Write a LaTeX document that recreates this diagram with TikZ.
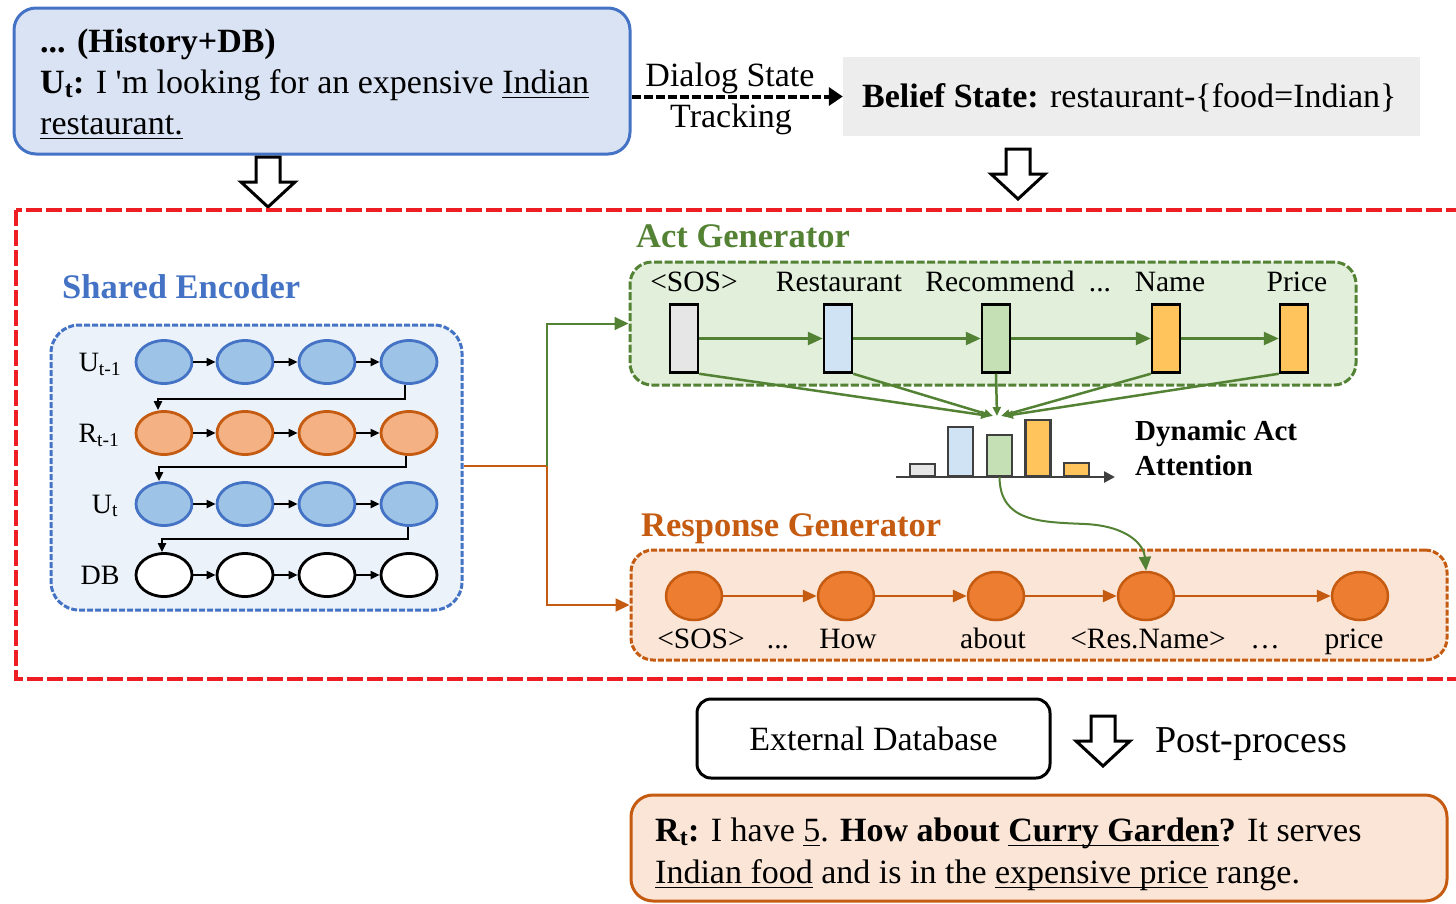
\documentclass[tikz,border=0pt]{standalone}
\usepackage{fontspec}
\setmainfont{Liberation Serif}
\usetikzlibrary{arrows.meta,shapes.geometric}

% underline at a fixed depth below the baseline
\newcommand{\uln}[1]{\leavevmode\setbox0\hbox{#1}\rlap{\rule[-5pt]{\wd0}{1.4pt}}\box0\relax}

\definecolor{bluedk}{HTML}{4472C4}
\definecolor{bluebg}{HTML}{DAE3F3}
\definecolor{encbg}{HTML}{EBF2FA}
\definecolor{bluefill}{HTML}{9DC3E6}
\definecolor{orangedk}{HTML}{C55A11}
\definecolor{orangelt}{HTML}{F4B183}
\definecolor{orangefill}{HTML}{ED7D31}
\definecolor{orangebg}{HTML}{FBE5D6}
\definecolor{greendk}{HTML}{548235}
\definecolor{greenbg}{HTML}{E2EFDA}
\definecolor{greenbar}{HTML}{C5E0B4}
\definecolor{bluebar}{HTML}{D0E3F4}
\definecolor{graybar}{HTML}{E7E6E6}
\definecolor{goldbar}{HTML}{FFC55C}
\definecolor{reddash}{HTML}{EE1D23}
\definecolor{beliefbg}{HTML}{EDEDED}
\definecolor{axisgray}{HTML}{404040}

\tikzset{
  hollow arrow/.pic={
    \draw[line width=3pt, fill=white, line join=miter]
      (-12,0) -- (12,0) -- (12,25) -- (27,25) -- (0,50) -- (-27,25) -- (-12,25) -- cycle;
  }
}

\begin{document}
\begin{tikzpicture}[x=1pt, y=-1pt,
  txt/.style={inner sep=0pt, anchor=base west, font=\fontsize{34}{41}\selectfont},
  txtc/.style={inner sep=0pt, anchor=base, font=\fontsize{34}{41}\selectfont},
  tok/.style={inner sep=0pt, anchor=base, font=\fontsize{29.5}{35}\selectfont},
  title/.style={inner sep=0pt, anchor=base west, font=\fontsize{34.5}{41}\selectfont\bfseries},
  enclabel/.style={inner sep=0pt, anchor=base, font=\fontsize{28}{34}\selectfont},
  encnode/.style={ellipse, line width=2.8pt, minimum width=56pt, minimum height=43pt, inner sep=0pt},
  ublue/.style={encnode, draw=bluedk, fill=bluefill},
  rorange/.style={encnode, draw=orangedk, fill=orangelt},
  dbnode/.style={encnode, draw=black, fill=white},
  encarrow/.style={line width=2pt, -{Triangle[length=9pt,width=8pt]}},
  actbar/.style={rectangle, draw=black, line width=2.5pt, minimum width=28pt, minimum height=68pt, inner sep=0pt},
  greenarrow/.style={draw=greendk, line width=2.5pt, -{Triangle[length=15pt,width=13pt]}},
  convarrow/.style={draw=greendk, line width=2.5pt, -{Triangle[length=9pt,width=8pt]}},
  histbar/.style={rectangle, draw=axisgray, line width=2.5pt, minimum width=25pt, inner sep=0pt, anchor=south},
  respnode/.style={ellipse, draw=orangedk, fill=orangefill, line width=2.5pt, minimum width=56pt, minimum height=48pt, inner sep=0pt},
  resparrow/.style={draw=orangedk, line width=2.5pt, -{Triangle[length=14pt,width=12pt]}},
]
\useasboundingbox (0,0) rectangle (1456,903);
\clip (0,0) rectangle (1456,903);

% ---------- input utterance ----------
\node[draw=bluedk, fill=bluebg, line width=3pt, rounded corners=22pt,
      minimum width=616pt, minimum height=146pt, inner sep=0pt] (topbox) at (322,81) {};
\node[txt] (hist) at (40,52) {\textbf{... (History+DB)}};
\node[txt] (utt) at (40,93) {\textbf{U\textsubscript{t}:} I \textquotesingle{}m looking for an expensive \uln{Indian}};
\node[txt] (utt2) at (40,134) {\uln{restaurant.}};

% ---------- belief state ----------
\node[fill=beliefbg, minimum width=577pt, minimum height=79pt, inner sep=0pt] (belief) at (1131.5,96.5) {};
\node[txt] (belieftxt) at (862,107) {\textbf{Belief State:} restaurant-\{food=Indian\}};

\draw[line width=4pt, dash pattern=on 9pt off 3pt, -{Triangle[length=14pt,width=18pt]}]
  (topbox.east |- belief.west) -- (belief.west);
\node[txtc] (dst1) at (730,86) {Dialog State};
\node[txtc] (dst2) at (731,127) {Tracking};

\pic at (268,157) {hollow arrow};
\pic at (1018,149) {hollow arrow};

% ---------- model frame ----------
\draw[draw=reddash, line width=4pt, dash pattern=on 16pt off 4pt] (16,210) rectangle (1480,679);

% ---------- shared encoder ----------
\node[title, text=bluedk] (enctitle) at (62,298) {Shared Encoder};
\node[draw=bluedk, fill=encbg, line width=3pt, dash pattern=on 6pt off 2pt, rounded corners=28pt,
      minimum width=411pt, minimum height=285pt, inner sep=0pt] (encbox) at (256.5,467.5) {};

\foreach \i/\x in {1/164,2/245,3/327,4/409} {
  \node[ublue]   (a\i) at (\x,362) {};
  \node[rorange] (b\i) at (\x,433) {};
  \node[ublue]   (c\i) at (\x,504) {};
  \node[dbnode]  (d\i) at (\x,575) {};
}
\foreach \r in {a,b,c,d} {
  \foreach \i/\j in {1/2,2/3,3/4} {
    \draw[encarrow] (\r\i) -- (\r\j);
  }
}
\draw[encarrow] ([xshift=-4pt]a4.south) -- ++(0,14) -| ([xshift=-6pt]b1.north);
\draw[encarrow] ([xshift=-3pt]b4.south) -- ++(0,11) -| ([xshift=-5pt]c1.north);
\draw[encarrow] ([xshift=-1pt]c4.south) -- ++(0,12) -| ([xshift=-2pt]d1.north);

\node[enclabel] (lu1) at (100,371) {U\textsubscript{t-1}};
\node[enclabel] (lr1) at (99,442) {R\textsubscript{t-1}};
\node[enclabel] (lu)  at (105,513) {U\textsubscript{t}};
\node[enclabel] (ldb) at (100,584) {DB};

% ---------- act generator ----------
\node[title, text=greendk] (acttitle) at (636,247) {Act Generator};
\node[draw=greendk, fill=greenbg, line width=3pt, dash pattern=on 8pt off 2.5pt, rounded corners=22pt,
      minimum width=726pt, minimum height=123pt, inner sep=0pt] (actbox) at (993,323.5) {};

\node[actbar, fill=graybar]  (r1) at (684,338.5) {};
\node[actbar, fill=bluebar]  (r2) at (838,338.5) {};
\node[actbar, fill=greenbar] (r3) at (996,338.5) {};
\node[actbar, fill=goldbar]  (r4) at (1166,338.5) {};
\node[actbar, fill=goldbar]  (r5) at (1294,338.5) {};

\node[tok] (t1) at (694,291) {<SOS>};
\node[tok] (t2) at (839,291) {Restaurant};
\node[tok] (t3) at (1000,291) {Recommend};
\node[tok] (t4) at (1100,291) {...};
\node[tok] (t5) at (1170,291) {Name};
\node[tok] (t6) at (1297,291) {Price};

\draw[greenarrow] (r1) -- (r2);
\draw[greenarrow] (r2) -- (r3);
\draw[greenarrow] (r3) -- (r4);
\draw[greenarrow] (r4) -- (r5);

% ---------- encoder outputs ----------
\coordinate (jn) at (547,466);
\draw[draw=orangedk, line width=2pt] (encbox.east |- jn) -- (jn);
\draw[draw=greendk, line width=2pt, -{Triangle[length=14pt,width=13pt]}] (jn) |- (actbox.west);

% ---------- dynamic act attention ----------
\coordinate (att) at (997,416);
\foreach \n/\dx in {r1.south east/-7pt, r2.south east/-4pt, r3.south/0pt, r4.south west/4pt, r5.south west/7pt} {
  \draw[convarrow] (\n) -- ([xshift=\dx]att);
}

\node[histbar, fill=graybar,  minimum height=12pt] (h1) at (922.5,477) {};
\node[histbar, fill=bluebar,  minimum height=49pt] (h2) at (960.5,477) {};
\node[histbar, fill=greenbar, minimum height=41pt] (h3) at (999.5,477) {};
\node[histbar, fill=goldbar,  minimum height=56pt] (h4) at (1038,477) {};
\node[histbar, fill=goldbar,  minimum height=13pt] (h5) at (1076.5,477) {};
\coordinate (ax0) at (896,477);
\coordinate (ax1) at (1115,477);
\draw[draw=axisgray, line width=2.5pt, -{Triangle[length=11pt,width=11pt]}] (ax0) -- (ax1);

\node[inner sep=0pt, anchor=base west, font=\fontsize{29}{35}\selectfont\bfseries] (dyn1) at (1135,440) {Dynamic Act};
\node[inner sep=0pt, anchor=base west, font=\fontsize{29}{35}\selectfont\bfseries] (dyn2) at (1135,475) {Attention};

% ---------- response generator ----------
\node[title, text=orangedk] (resptitle) at (641,536) {Response Generator};
\node[draw=orangedk, fill=orangebg, line width=3pt, dash pattern=on 6pt off 2pt, rounded corners=22pt,
      minimum width=816pt, minimum height=110pt, inner sep=0pt] (respbox) at (1039,605) {};

\draw[draw=orangedk, line width=2pt, -{Triangle[length=14pt,width=13pt]}] (jn) |- (respbox.west);

\node[respnode] (s1) at (694,596) {};
\node[respnode] (s2) at (846,596) {};
\node[respnode] (s3) at (996,596) {};
\node[respnode] (s4) at (1146,596) {};
\node[respnode] (s5) at (1360,596) {};
\draw[resparrow] (s1) -- (s2);
\draw[resparrow] (s2) -- (s3);
\draw[resparrow] (s3) -- (s4);
\draw[resparrow] (s4) -- (s5);

\node[tok] (w1) at (701,648) {<SOS>};
\node[tok] (w2) at (778,648) {...};
\node[tok] (w3) at (848,648) {How};
\node[tok] (w4) at (993,648) {about};
\node[tok] (w5) at (1148,648) {<Res.Name>};
\node[tok] (w6) at (1265,648) {…};
\node[tok] (w7) at (1354,648) {price};

\draw[draw=greendk, line width=2pt, -{Triangle[length=14pt,width=12pt]}]
  (h3.south) .. controls (1000,522) and (1040,522) .. (1085,524)
             .. controls (1128,526) and (1144,545) .. (s4.north);

% ---------- post-processing ----------
\node[draw=black, line width=3pt, rounded corners=14pt, minimum width=353pt, minimum height=79pt,
      inner sep=0pt, font=\fontsize{34}{41}\selectfont] (extdb) at (873.5,738.5) {External Database};
\pic at (1103,716) {hollow arrow};
\node[inner sep=0pt, anchor=base west, font=\fontsize{38}{45}\selectfont] (post) at (1155,752) {Post-process};

\node[draw=orangedk, fill=orangebg, line width=3pt, rounded corners=22pt,
      minimum width=816pt, minimum height=106pt, inner sep=0pt] (outbox) at (1039,848) {};
\node[txt] (out1) at (655,841) {\textbf{R\textsubscript{t}:} I have \uln{5}. \textbf{How about \uln{Curry Garden}?} It serves};
\node[txt] (out2) at (655,883) {\uln{Indian food} and is in the \uln{expensive price} range.};
\end{tikzpicture}
\end{document}
